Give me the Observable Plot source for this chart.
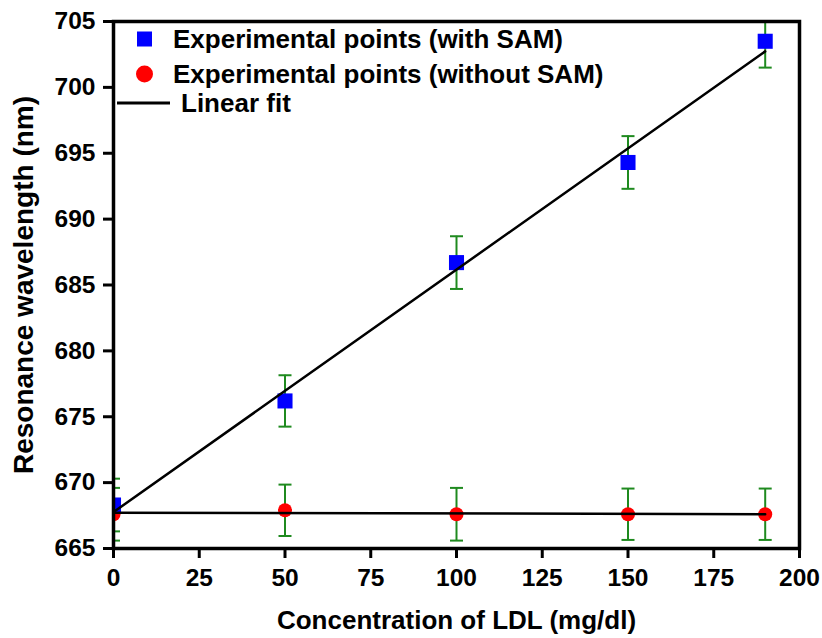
<!DOCTYPE html>
<html><head><meta charset="utf-8">
<script src="https://cdn.jsdelivr.net/npm/d3@7"></script>
<script src="https://cdn.jsdelivr.net/npm/@observablehq/plot@0.6"></script>
<style>
body{margin:0;background:#fff}
#chart svg{font-family:"Liberation Sans",Arial,sans-serif;font-weight:bold;}
#chart svg g[aria-label$="tick"] path, #chart svg g[aria-label$="axis"] line{stroke-width:3px;stroke:#000}
#chart svg g[aria-label$="tick label"] text, #chart svg g[aria-label$="axis"] text{font-size:24.5px !important;font-weight:bold;fill:#000}
</style></head><body><div id="chart"></div>
<script>
const concentration = [0, 50, 100, 150, 190];
const withSAM = [668.3, 676.2, 686.7, 694.3, 703.5];
const withoutSAM = [667.6, 667.9, 667.6, 667.6, 667.6];
const errWithSAM = [2, 1.95, 2, 2, 2];
const errWithoutSAM = [2, 1.95, 2, 1.95, 1.95];
const xTicks = [0, 25, 50, 75, 100, 125, 150, 175, 200];
const yTicks = [665, 670, 675, 680, 685, 690, 695, 700, 705];
const xTitle = "Concentration of LDL (mg/dl)";
const yTitle = "Resonance wavelength (nm)";
const legendLabels = ["Experimental points (with SAM)", "Experimental points (without SAM)", "Linear fit"];

const sam = concentration.map((x, i) => ({x, y: withSAM[i], e: errWithSAM[i]}));
const noSam = concentration.map((x, i) => ({x, y: withoutSAM[i], e: errWithoutSAM[i]}));
const all = sam.concat(noSam);

const green = "#1f8a1f";
const cap = {draw(ctx, size) { const w = Math.sqrt(size / Math.PI); ctx.moveTo(-w, 0); ctx.lineTo(w, 0); }};

function legend(index, scales, values, dims) {
  const g = d3.create("svg:g").attr("font-size", 26).attr("font-weight", "bold").attr("text-anchor", "start");
  const x0 = dims.marginLeft;
  const y0 = dims.marginTop;
  const rows = [18, 53, 82];
  g.append("rect").attr("x", x0 + 24).attr("y", y0 + rows[0] - 7.5).attr("width", 15).attr("height", 15).attr("fill", "#0000ff");
  g.append("circle").attr("cx", x0 + 31.5).attr("cy", y0 + rows[1]).attr("r", 8.5).attr("fill", "#ff0000");
  g.append("line").attr("x1", x0 + 4).attr("x2", x0 + 57).attr("y1", y0 + rows[2]).attr("y2", y0 + rows[2]).attr("stroke", "#000").attr("stroke-width", 3);
  const tx = [x0 + 60, x0 + 60, x0 + 68];
  legendLabels.forEach((t, i) => {
    g.append("text").attr("x", tx[i]).attr("y", y0 + rows[i]).attr("dy", "0.35em").attr("fill", "#000").text(t);
  });
  return g.node();
}

const chart = Plot.plot({
  width: 822,
  height: 638,
  marginLeft: 113,
  marginRight: 23,
  marginTop: 21,
  marginBottom: 90,
  style: {fontSize: "24px", fontWeight: "bold", fontFamily: "'Liberation Sans', Arial, sans-serif", color: "#000", background: "#fff"},
  x: {domain: [0, 200], ticks: xTicks, tickSize: 10, tickPadding: 10, label: null},
  y: {domain: [665, 705], ticks: yTicks, tickSize: 10, tickPadding: 8, label: null},
  marks: [
    Plot.ruleX(all, {x: "x", y1: d => d.y - d.e, y2: d => d.y + d.e, stroke: green, strokeWidth: 2, clip: true}),
    Plot.dot(all, {x: "x", y: d => d.y - d.e, symbol: cap, r: 6.5, stroke: green, strokeWidth: 2, fill: "none", clip: true}),
    Plot.dot(all, {x: "x", y: d => d.y + d.e, symbol: cap, r: 6.5, stroke: green, strokeWidth: 2, fill: "none", clip: true}),
    Plot.dot(noSam, {x: "x", y: "y", r: 7, fill: "#ff0000", stroke: "none", clip: true}),
    Plot.dot(sam, {x: "x", y: "y", symbol: "square", r: 8.5, fill: "#0000ff", stroke: "none", clip: true}),
    Plot.linearRegressionY(sam, {x: "x", y: "y", ci: 0, stroke: "#000", strokeWidth: 2.5}),
    Plot.linearRegressionY(noSam, {x: "x", y: "y", ci: 0, stroke: "#000", strokeWidth: 2.5}),
    Plot.frame({stroke: "#000", strokeWidth: 3.5}),
    Plot.text([xTitle], {frameAnchor: "bottom", dy: 72, lineAnchor: "middle", textAnchor: "middle", fontSize: 26, fontWeight: "bold", fill: "#000"}),
    Plot.text([yTitle], {frameAnchor: "left", dx: -89, rotate: -90, lineAnchor: "middle", textAnchor: "middle", fontSize: 28, fontWeight: "bold", fill: "#000"}),
    legend
  ]
});
document.getElementById("chart").appendChild(chart);
</script></body></html>
